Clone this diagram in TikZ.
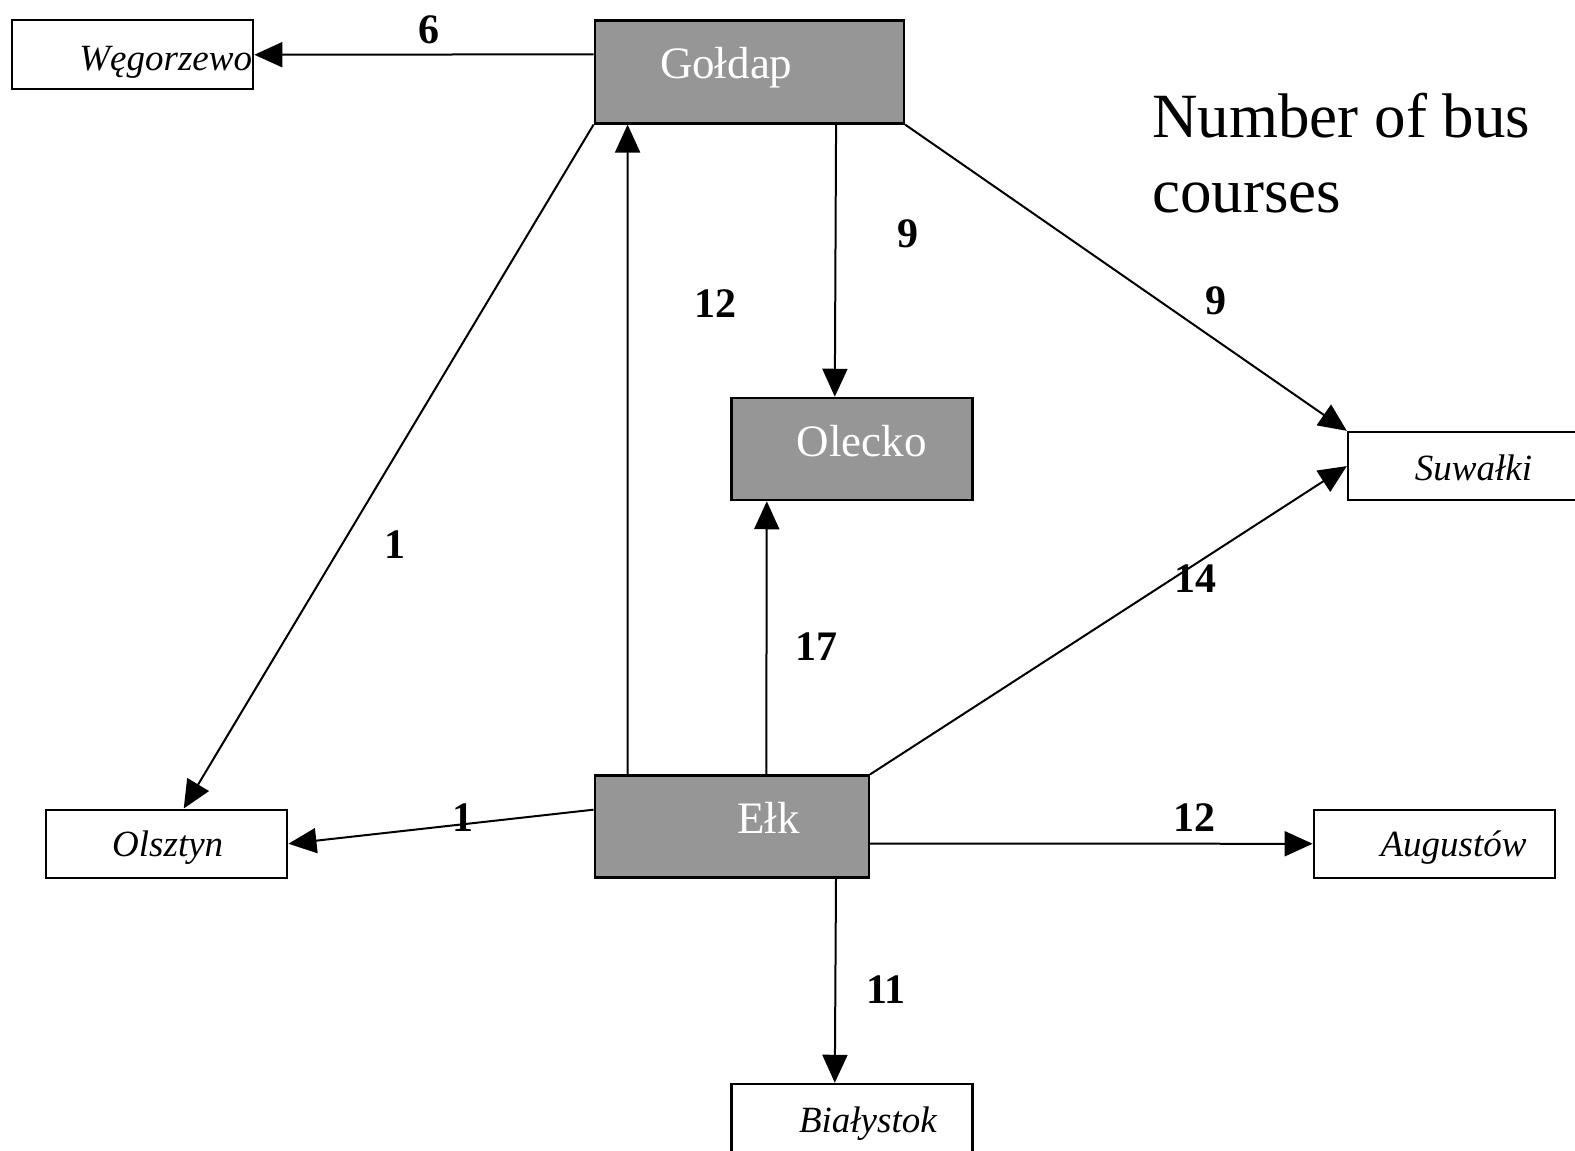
\documentclass[tikz,border=0pt]{standalone}
\usepackage{fontspec}
\setmainfont{Liberation Serif}
\usetikzlibrary{arrows.meta}
\definecolor{hubgray}{RGB}{150,150,150}
\tikzset{
  town/.style={draw=black, line width=2.5pt, fill=white, inner sep=0pt},
  hub/.style={draw=black, line width=2.5pt, fill=hubgray, inner sep=0pt},
  townname/.style={inner sep=0pt, anchor=base, font=\fontsize{37}{41}\selectfont\itshape},
  hubname/.style={inner sep=0pt, anchor=base, text=white, font=\fontsize{45}{50}\selectfont},
  count/.style={inner sep=0pt, anchor=base, font=\fontsize{42}{48}\selectfont\bfseries},
  route/.style={line width=2pt, -{Triangle[length=28pt,width=25pt]}},
}
\begin{document}
\begin{tikzpicture}[x=1.0045pt, y=-1.0045pt]
\useasboundingbox (0,0) rectangle (1568,1145);
\clip (0,0) rectangle (1568,1145);

% boxes
\node[town, minimum width=241pt, minimum height=69pt] (weg) at (132,54.5) {};
\node[hub,  minimum width=309pt, minimum height=103pt] (gol) at (746,71.5) {};
\node[hub,  minimum width=241pt, minimum height=102pt] (ole) at (848,447) {};
\node[town, minimum width=249pt, minimum height=68pt] (suw) at (1466,464) {};
\node[town, minimum width=241pt, minimum height=68pt] (ols) at (166,840) {};
\node[hub,  minimum width=274pt, minimum height=102pt] (elk) at (728.5,823) {};
\node[town, minimum width=241pt, minimum height=68pt] (aug) at (1428,840) {};
\node[town, minimum width=241pt, minimum height=86pt] (bia) at (848,1122) {};

% routes
\draw[route] ([yshift=17.5pt]gol.west) -- (weg.east);
\draw[route] (gol.south west) -- ([xshift=17pt]ols.north);
\draw[route] ([xshift=34pt]elk.north west) -- ([xshift=34pt]gol.south west);
\draw[route] ([xshift=-69pt]gol.south east) -- ([xshift=-17pt]ole.north);
\draw[route] (gol.south east) -- (suw.north west);
\draw[route] ([xshift=34.5pt]elk.north) -- ([xshift=-85pt]ole.south);
\draw[route] (elk.north east) -- (suw.west);
\draw[route] ([yshift=17pt]elk.west) -- (ols.east);
\draw[route] ([yshift=-17pt]elk.east) -- (aug.west);
\draw[route] ([xshift=-34pt]elk.south east) -- ([xshift=-17pt]bia.north);

% town names
\node[townname] (weg-t) at (165,70) {Węgorzewo};
\node[townname] (suw-t) at (1467,478) {Suwałki};
\node[townname] (ols-t) at (167,853) {Olsztyn};
\node[townname] (aug-t) at (1447,853) {Augustów};
\node[townname] (bia-t) at (864,1127) {Białystok};
\node[hubname] (gol-t) at (723,78) {Gołdap};
\node[hubname] (ole-t) at (858,454) {Olecko};
\node[hubname] (elk-t) at (765,830) {Ełk};

% course counts
\node[count] (c-weg) at (427,43) {6};
\node[count] (c-ole1) at (904,246) {9};
\node[count] (c-gol) at (712,316) {12};
\node[count] (c-suw1) at (1211,313) {9};
\node[count] (c-ols1) at (393,556) {1};
\node[count] (c-ole2) at (813,658) {17};
\node[count] (c-suw2) at (1190,590) {14};
\node[count] (c-ols2) at (461,828) {1};
\node[count] (c-aug) at (1189,828) {12};
\node[count] (c-bia) at (882,999) {11};

% legend (base anchor sits on the last line)
\node[inner sep=0pt, anchor=base west, align=left, font=\fontsize{63}{75}\selectfont] (legend) at (1147,212) {Number of bus\\courses};
\end{tikzpicture}
\end{document}
